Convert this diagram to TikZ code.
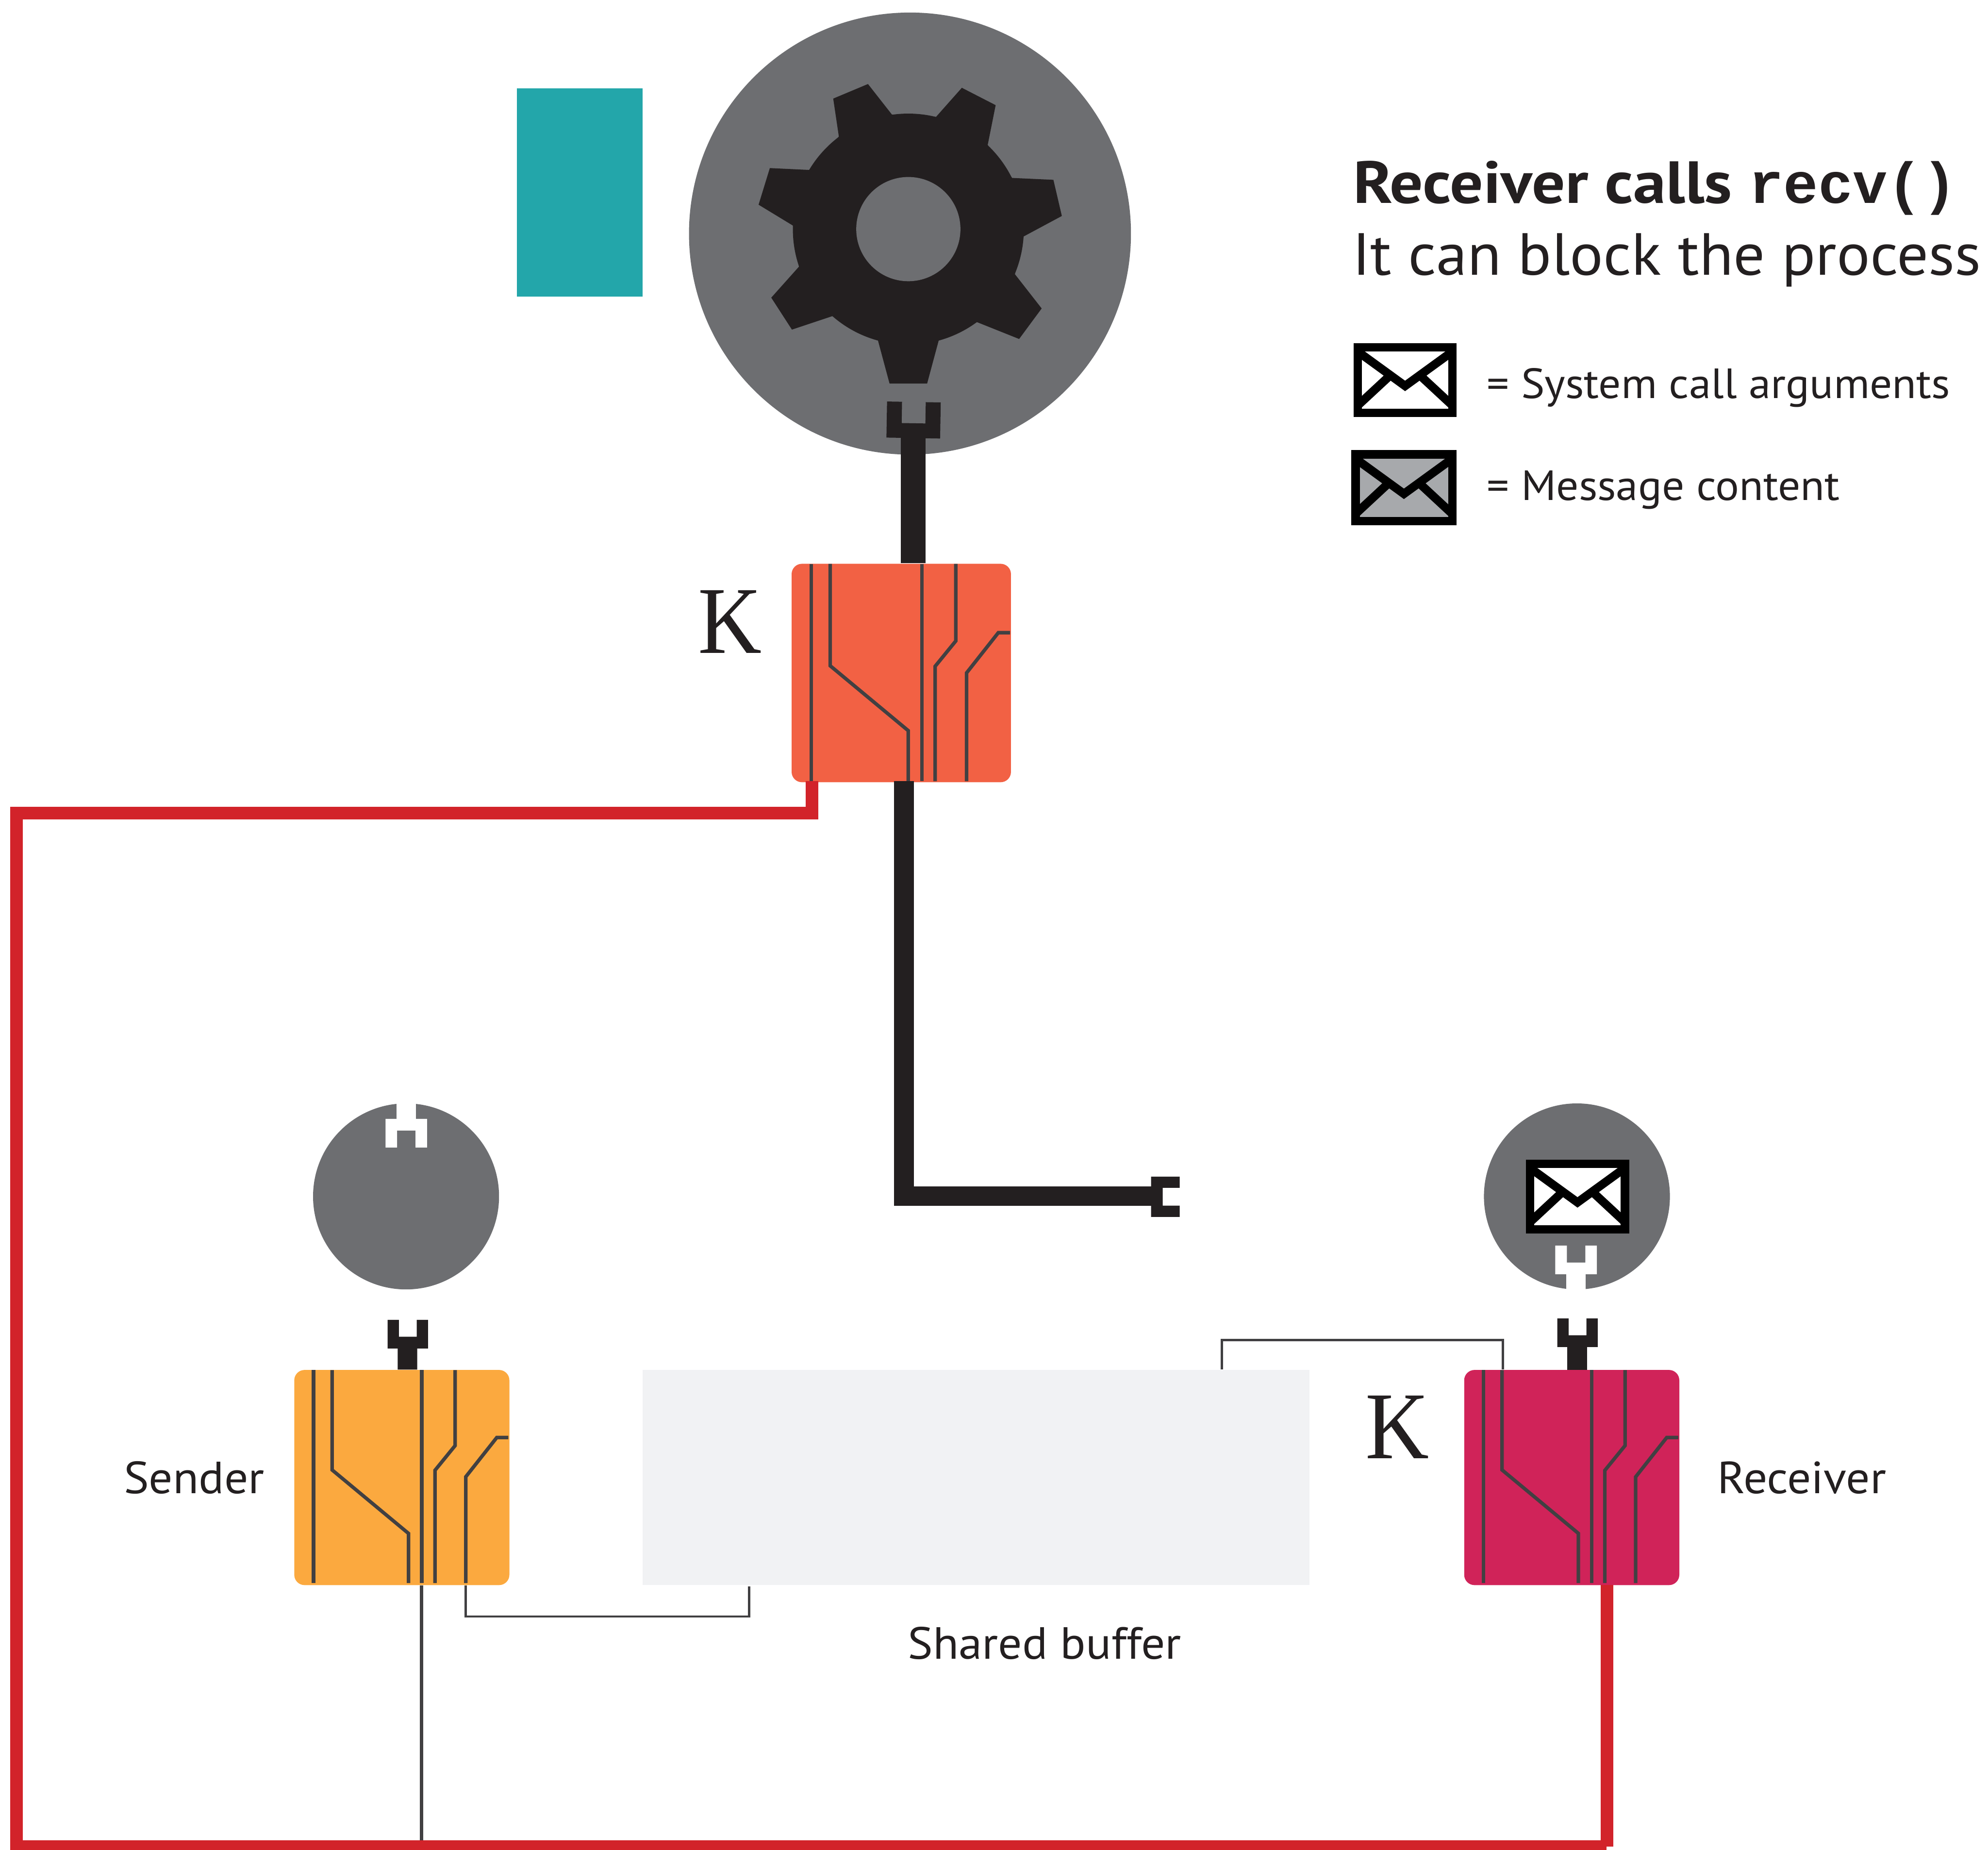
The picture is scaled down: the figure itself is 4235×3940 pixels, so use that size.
\documentclass[tikz,border=0pt]{standalone}
\usepackage{fontspec}
\setmainfont{PT Sans}[FakeStretch=1.05, BoldFeatures={FakeStretch=1.105}]
\setmonofont{Liberation Mono}
\newfontfamily\serifletter{Liberation Serif}
\usetikzlibrary{positioning}

\definecolor{coregray}{HTML}{6D6E71}
\definecolor{gearblack}{HTML}{231F20}
\definecolor{kernelred}{HTML}{F26144}
\definecolor{senderorange}{HTML}{FBA93F}
\definecolor{receivercrimson}{HTML}{D02359}
\definecolor{bufferwhite}{HTML}{F1F2F4}
\definecolor{threadteal}{HTML}{23A6AA}
\definecolor{scheduled}{HTML}{D2232A}
\definecolor{wiregray}{HTML}{414042}
\definecolor{contentgray}{HTML}{A7A9AC}

\tikzset{
    chip/.style={rectangle, rounded corners=0.22cm, inner sep=0, minimum width=4.58cm, minimum height=4.58cm, fill=#1},
    head/.style={circle, inner sep=0, minimum size=3.96cm, fill=coregray},
    caption/.style={inner sep=0, text=gearblack, font=\fontsize{27.3pt}{30pt}\selectfont},
    legendtext/.style={inner sep=0, anchor=base west, text=gearblack, font=\fontsize{25.6pt}{28pt}\selectfont},
    heading/.style={inner sep=0, anchor=base west, text=gearblack, font=\fontsize{36pt}{40pt}\selectfont},
    bigk/.style={inner sep=0, anchor=base west, text=gearblack, font=\fontsize{58pt}{60pt}\serifletter},
    wire/.style={draw=wiregray, line width=0.075cm},
    link/.style={draw=wiregray, line width=0.05cm},
    stem/.style={draw=gearblack, line width=#1},
    path red/.style={draw=scheduled, line width=0.265cm},
    pics/chipwires/.style={code={
        \draw[wire] (42.5,1) -- (42.5,464);
        \draw[wire] (83,1) -- (83,218) -- (249,356) -- (249,464);
        \draw[wire] (278,1) -- (278,464);
        \draw[wire] (350.5,1) -- (350.5,165) -- (306.5,219) -- (306.5,464);
        \draw[wire] (373.5,464) -- (373.5,233) -- (441,147.5) -- (466,147.5);
    }},
    pics/wrench/.style={code={
        \fill[#1] (-43,0) -- (-43,-61) -- (-19,-61) -- (-19,-25) -- (19,-25) -- (19,-61) -- (43,-61) -- (43,0) -- cycle;
    }},
    pics/envelope/.style={code={
        \fill[#1] (10,9) rectangle (211,148);
        \begin{scope}
            \clip (10,9) rectangle (211,148);
            \draw[line width=0.18cm] (5,14.4) -- (110.5,91) -- (216,14.4);
            \draw[line width=0.18cm] (5,137) -- (75,72);
            \draw[line width=0.18cm] (216,137) -- (146,72);
        \end{scope}
        \draw[line width=0.18cm] (9.5,8.8) rectangle (211.5,148.2);
    }},
}

\begin{document}
\begin{tikzpicture}[x=0.01cm, y=-0.01cm]
    \clip (0,0) rectangle (4235,3940);

    % Nodes
    \node (core) [circle, inner sep=0, minimum size=9.41cm, fill=coregray] at (1938.5,497.5) {};
    \node (thread) [rectangle, inner sep=0, minimum width=2.68cm, minimum height=4.43cm, fill=threadteal, left=0.97cm of core, yshift=0.875cm] {};
    \node (kernel) [chip=kernelred, minimum width=4.67cm, minimum height=4.65cm, below=2.31cm of core, xshift=-0.185cm] {};
    \node (sender) [chip=senderorange] at (856,3147) {};
    \node (buffer) [rectangle, inner sep=0, minimum width=14.2cm, minimum height=4.58cm, fill=bufferwhite, right=2.82cm of sender] {};
    \node (receiver) [chip=receivercrimson, right=3.28cm of buffer] {};
    \node (senderhead) [head, above=1.70cm of sender, xshift=0.09cm] {};
    \node (receiverhead) [head, above=1.70cm of receiver, xshift=0.11cm] {};

    % Gear on the core
    \fill[gearblack] (1849,179) -- (1900,244) -- (1994,249) -- (2049,187) -- (2121,224) -- (2104,309)
        -- (2156,379) -- (2244,383) -- (2262,460) -- (2180,504) -- (2162,584) -- (2219,657) -- (2171,722)
        -- (2081,686) -- (2000,724) -- (1975,817) -- (1895,817) -- (1870,724) -- (1774,673) -- (1687,702)
        -- (1643,634) -- (1702,568) -- (1690,481) -- (1616,436) -- (1640,358) -- (1724,362) -- (1787,291)
        -- (1775,210) -- cycle;
    \fill[gearblack] (1935,488) circle (246);
    \fill[coregray] (1935,488) circle (111);

    % Chip wiring
    \pic at (kernel.north west) {chipwires};
    \pic[scale=0.98] at (sender.north west) {chipwires};
    \pic[scale=0.98] at (receiver.north west) {chipwires};

    % Tap points on the chips
    \coordinate (coretap) at (1945.5,925);
    \coordinate (kerneltop) at (1945.5,1199);
    \coordinate (kernelout) at (1925.4,1664);
    \coordinate (kernelred) at (1730,1664);
    \coordinate (barend) at (2452,2547.5);
    \coordinate (senderbus) at ([xshift=2.72cm]sender.south west);
    \coordinate (senderlink) at ([xshift=3.66cm]sender.south west);
    \coordinate (bufferlow) at (1596,3379);
    \coordinate (bufferhigh) at ([xshift=12.34cm]buffer.north west);
    \coordinate (receiverlink) at ([xshift=0.83cm]receiver.north west);
    \coordinate (receiverred) at (3423,3376);
    \coordinate (leftrail) at (35,1732);
    \coordinate (lowrail) at (3422,3932.6);

    % Edges
    \draw[stem=0.53cm] (coretap) -- (kerneltop);
    \draw[stem=0.42cm] (kernelout) |- (barend);
    \draw[stem=0.417cm] (868,2860) -- ([xshift=0.12cm]sender.north);
    \draw[stem=0.417cm] (3359.7,2860) -- (3359.7,2918);
    \draw[link] (senderlink) |- (1596,3443) -- (bufferlow);
    \draw[link] (bufferhigh) -- ++(0,-63) -| (receiverlink);
    \draw[wire] (senderbus) -- (senderbus |- lowrail);
    \draw[path red] (kernelred) |- (leftrail) |- (lowrail);
    \draw[path red] (3423,3933) -- (receiverred);

    % Wrenches
    \pic[rotate=-1, xscale=1.33, yscale=1.26] at (1945.5,933) {wrench=gearblack};
    \pic at (868.7,2872) {wrench=gearblack};
    \pic at (3360.6,2869) {wrench=gearblack};
    \pic[rotate=-90] at (2452,2549) {wrench=gearblack};
    \pic[rotate=180, xscale=1.03] at (865.5,2383) {wrench=white};
    \draw[stem=0.415cm, draw=white] (865.5,2385) -- (865.5,2340);
    \pic[xscale=1.03] at (3357.5,2714) {wrench=white};
    \draw[stem=0.415cm, draw=white] (3357.2,2712) -- (3357.2,2752);

    % Envelopes
    \pic at (3250,2470) {envelope=white};
    \pic at (2882.7,731) {envelope=white};
    \pic[scale=1.02] at (2878,959) {envelope=contentgray};

    % Labels
    \node (ktop) [bigk] at (1487,1391) {\scalebox{0.92}[1]{K}};
    \node (krecv) [bigk] at (2908,3106) {\scalebox{0.92}[1]{K}};
    \node (sendertext) [caption, left=0.62cm of sender] {Sender};
    \node (receivertext) [caption, right=0.80cm of receiver] {Receiver};
    \node (buffertext) [caption, below=0.87cm of buffer, xshift=1.46cm] {Shared buffer};
    \node (title) [heading] at (2882,433) {\textbf{Receiver calls {\fontsize{35pt}{40pt}\selectfont\texttt{recv()}}}};
    \node (subtitle) [heading] at (2880,586) {It can block the process};
    \node (legendargs) [legendtext] at (3167,848) {= System call arguments};
    \node (legendmsg) [legendtext] at (3167,1065) {= Message content};
\end{tikzpicture}
\end{document}
